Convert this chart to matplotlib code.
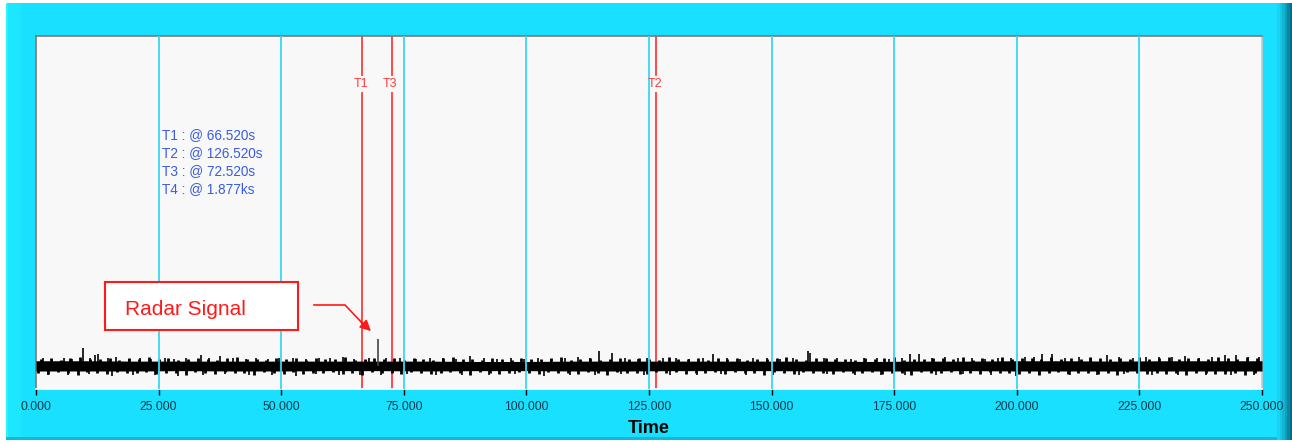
import matplotlib
matplotlib.use("Agg")
import numpy as np
import matplotlib.pyplot as plt
from matplotlib.patches import Rectangle

plt.rcParams['font.family'] = ['Liberation Sans', 'DejaVu Sans']

# cursor positions (s)
cursor_names = ["T1", "T2", "T3"]
cursor_times = [66.52, 126.52, 72.52]
readout_lines = ["T1 : @ 66.520s", "T2 : @ 126.520s", "T3 : @ 72.520s", "T4 : @ 1.877ks"]

# x ticks
tick_values = [0, 25, 50, 75, 100, 125, 150, 175, 200, 225, 250]
tick_labels = ["0.000", "25.000", "50.000", "75.000", "100.000", "125.000",
               "150.000", "175.000", "200.000", "225.000", "250.000"]

# noise band core, read every 10 s
band_t = [0, 10, 20, 30, 40, 50, 60, 70, 80, 90, 100, 110, 120, 130, 140, 150, 160,
          170, 180, 190, 200, 210, 220, 230, 240, 250]
band_hi = [0.15, 0.15, 0.14, 0.14, 0.14, 0.14, 0.14, 0.14, 0.14, 0.13, 0.13, 0.14, 0.14,
           0.14, 0.14, 0.14, 0.14, 0.13, 0.14, 0.14, 0.15, 0.15, 0.14, 0.15, 0.15, 0.15]
band_lo = [-0.14, -0.14, -0.14, -0.13, -0.14, -0.14, -0.13, -0.13, -0.14, -0.13, -0.13,
           -0.14, -0.14, -0.13, -0.13, -0.13, -0.14, -0.14, -0.14, -0.13, -0.14, -0.14,
           -0.14, -0.14, -0.14, -0.14]

# small excursions above / below the core, one every 2 s
bump_up = [0.20, 0.23, 0.18, 0.22, 0.25, 0.19, 0.21, 0.24, 0.17, 0.22,
           0.20, 0.26, 0.19, 0.23, 0.18, 0.21, 0.24, 0.20, 0.17, 0.22,
           0.25, 0.19, 0.21, 0.18, 0.23, 0.20, 0.24, 0.17, 0.22, 0.19,
           0.21, 0.25, 0.18, 0.20, 0.23, 0.19, 0.22, 0.17, 0.24, 0.20,
           0.18, 0.22, 0.26, 0.19, 0.21, 0.17, 0.23, 0.20, 0.18, 0.24,
           0.21, 0.19, 0.22, 0.25, 0.18, 0.20, 0.23, 0.17, 0.21, 0.24,
           0.19, 0.22, 0.20, 0.18, 0.25, 0.21, 0.19, 0.23, 0.17, 0.22,
           0.20, 0.24, 0.18, 0.21, 0.19, 0.23, 0.26, 0.20, 0.18, 0.22,
           0.24, 0.19, 0.21, 0.17, 0.23, 0.20, 0.22, 0.25, 0.18, 0.21,
           0.19, 0.24, 0.22, 0.20, 0.26, 0.18, 0.23, 0.21, 0.25, 0.19,
           0.22, 0.24, 0.20, 0.26, 0.21, 0.23, 0.19, 0.25, 0.22, 0.20,
           0.24, 0.21, 0.26, 0.19, 0.23, 0.25, 0.20, 0.22, 0.24, 0.21,
           0.26, 0.23, 0.20, 0.25, 0.22]
bump_dn = [-0.19, -0.22, -0.17, -0.21, -0.24, -0.18, -0.20, -0.23, -0.17, -0.21,
           -0.20, -0.18, -0.23, -0.19, -0.21, -0.25, -0.18, -0.20, -0.22, -0.17,
           -0.21, -0.19, -0.24, -0.18, -0.20, -0.22, -0.17, -0.23, -0.19, -0.21,
           -0.18, -0.22, -0.20, -0.24, -0.17, -0.21, -0.19, -0.23, -0.18, -0.20,
           -0.22, -0.19, -0.17, -0.21, -0.24, -0.18, -0.20, -0.22, -0.19, -0.17,
           -0.21, -0.23, -0.18, -0.20, -0.19, -0.22, -0.17, -0.21, -0.24, -0.18,
           -0.20, -0.19, -0.22, -0.17, -0.21, -0.18, -0.23, -0.20, -0.19, -0.17,
           -0.22, -0.18, -0.21, -0.20, -0.24, -0.17, -0.19, -0.22, -0.18, -0.21,
           -0.20, -0.23, -0.17, -0.19, -0.21, -0.18, -0.22, -0.20, -0.19, -0.24,
           -0.18, -0.21, -0.20, -0.17, -0.22, -0.19, -0.23, -0.18, -0.21, -0.20,
           -0.22, -0.19, -0.24, -0.20, -0.18, -0.23, -0.21, -0.19, -0.22, -0.20,
           -0.24, -0.18, -0.21, -0.23, -0.20, -0.22, -0.19, -0.24, -0.21, -0.20,
           -0.23, -0.22, -0.19, -0.24, -0.21]

# distinct upward spikes (time, peak)
up_t = [1.5, 3.2, 5.8, 7.4, 9.5, 11.0, 12.0, 12.7, 14.6, 16.3, 18.9, 21.2, 23.5, 26.4,
        28.1, 30.6, 33.6, 35.2, 37.5, 40.1, 42.8, 44.9, 47.3, 49.6, 52.4, 55.0, 57.7,
        59.9, 62.6, 64.8, 67.9, 71.3, 74.2, 77.5, 80.3, 82.9, 85.6, 88.5, 91.4, 94.0,
        96.8, 99.5, 102.3, 105.1, 107.9, 110.6, 112.9, 114.8, 117.4, 120.1, 122.8, 124.6,
        127.9, 130.5, 133.2, 136.0, 138.0, 140.9, 143.5, 146.3, 149.0, 151.8, 154.4,
        157.4, 157.8, 160.6, 163.3, 166.1, 168.8, 171.5, 174.0, 176.6, 178.2, 180.0,
        182.7, 185.4, 188.0, 190.9, 193.5, 196.2, 198.9, 201.6, 203.5, 205.1, 207.1,
        209.8, 212.6, 215.2, 218.3, 220.9, 223.6, 226.3, 229.0, 231.7, 234.4, 237.1,
        239.8, 242.5, 244.8, 247.2, 249.3]
up_v = [0.22, 0.20, 0.24, 0.21, 0.50, 0.24, 0.31, 0.34, 0.22, 0.25, 0.21, 0.23, 0.20,
        0.24, 0.21, 0.23, 0.31, 0.22, 0.28, 0.23, 0.21, 0.24, 0.20, 0.22, 0.24, 0.21,
        0.23, 0.22, 0.25, 0.21, 0.24, 0.23, 0.22, 0.21, 0.24, 0.22, 0.20, 0.28, 0.23,
        0.21, 0.24, 0.20, 0.22, 0.21, 0.23, 0.25, 0.22, 0.43, 0.38, 0.24, 0.21, 0.23,
        0.22, 0.24, 0.21, 0.23, 0.34, 0.22, 0.21, 0.24, 0.22, 0.20, 0.23, 0.43, 0.38,
        0.22, 0.24, 0.21, 0.23, 0.22, 0.20, 0.24, 0.34, 0.34, 0.23, 0.25, 0.22, 0.24,
        0.21, 0.23, 0.24, 0.25, 0.26, 0.34, 0.34, 0.24, 0.26, 0.23, 0.31, 0.25, 0.24,
        0.27, 0.25, 0.26, 0.28, 0.24, 0.27, 0.31, 0.31, 0.27, 0.26]

# distinct downward spikes (time, trough)
dn_t = [2.4, 6.6, 10.8, 15.5, 19.7, 24.2, 29.0, 34.1, 38.6, 43.5, 48.2, 53.0, 57.1,
        61.8, 66.0, 70.4, 75.6, 81.5, 86.9, 92.3, 97.6, 103.5, 108.8, 113.9, 119.2,
        124.0, 129.3, 134.7, 139.6, 144.8, 150.3, 155.6, 161.2, 167.0, 172.4, 177.3,
        183.5, 189.1, 194.7, 199.8, 204.6, 210.9, 216.4, 221.8, 227.5, 232.8, 238.5,
        243.6, 248.4]
dn_v = [-0.24, -0.26, -0.23, -0.28, -0.25, -0.24, -0.27, -0.26, -0.23, -0.25, -0.24,
        -0.27, -0.23, -0.25, -0.24, -0.26, -0.23, -0.25, -0.24, -0.26, -0.23, -0.27,
        -0.24, -0.25, -0.23, -0.26, -0.24, -0.25, -0.23, -0.26, -0.24, -0.25, -0.23,
        -0.24, -0.26, -0.25, -0.24, -0.23, -0.26, -0.27, -0.25, -0.24, -0.26, -0.23,
        -0.25, -0.26, -0.24, -0.25, -0.26]

# radar return
radar_t = 69.68
radar_v = 0.76

W, H = 1292, 442
fig = plt.figure(figsize=(W / 100, H / 100), dpi=100)
fig.patch.set_facecolor("white")


def px_rect(x0, y0, x1, y1, color):
    fig.patches.append(Rectangle((x0 / W, 1 - y1 / H), (x1 - x0) / W, (y1 - y0) / H,
                                 transform=fig.transFigure, facecolor=color,
                                 edgecolor="none", zorder=-10))


# cyan panel with bevel
px_rect(6, 3, W, 440, "#1ae0ff")
px_rect(6, 3, 8, 440, "#30f0ff")
px_rect(8, 3, 21, 440, "#1de6ff")
px_rect(6, 437, W, 440, "#12b8d6")
shade = ["#18d4f2", "#15c6e4", "#12b4d2", "#0f9fbc", "#0b86a2", "#086c86"]
for i, c in enumerate(shade):
    px_rect(1277 + i * 2.5, 3, 1277 + (i + 1) * 2.5, 440, c)

ax = fig.add_axes([36 / W, 1 - 389 / H, 1226 / W, 353 / H])
ax.set_zorder(5)
ax.set_facecolor("#f8f8f8")
ax.set_xlim(0, 250)
ax.set_ylim(-0.65, 9.35)

# cursors (under the trace)
for name, t in zip(cursor_names, cursor_times):
    ax.plot([t, t], [-0.65, 7.73], color="#ff3b3b", lw=1.3, zorder=2)
    ax.plot([t, t], [8.24, 9.35], color="#ff3b3b", lw=1.3, zorder=2)
    ax.text(t - 0.3, 8.0, name, color="#ff3b3b", fontsize=9, ha="center",
            va="center", zorder=5)

# signal
ax.fill_between(band_t, band_lo, band_hi, color="black", lw=0, zorder=3)
ax.vlines(np.arange(1, 250, 2), 0, bump_up, color="black", lw=2.0, zorder=3)
ax.vlines(np.arange(0.5, 250, 2), bump_dn, 0, color="black", lw=2.0, zorder=3)
ax.vlines(up_t, 0, up_v, color="black", lw=1.2, zorder=3)
ax.vlines(dn_t, dn_v, 0, color="black", lw=1.2, zorder=3)
ax.vlines([radar_t], 0, [radar_v], color="#444444", lw=1.2, zorder=3)

for v in tick_values[1:-1]:
    ax.axvline(v, color="#3ad6f4", lw=1.3, zorder=3.5)

for i, line in enumerate(readout_lines):
    ax.text(25.6, 6.545 - i * 0.51, line, color="#3a5ce0", fontsize=9.8,
            ha="left", va="center", zorder=5)

# annotation
ax.add_patch(Rectangle((14.07, 1.02), 39.36, 1.37, facecolor="white",
                       edgecolor="#ff1a1a", lw=1.5, zorder=6))
ax.text(18.2, 1.61, "Radar Signal", color="#ff1a1a", fontsize=15,
        ha="left", va="center", zorder=7)
ax.plot([56.69, 63.01, 66.5], [1.73, 1.73, 1.22], color="#ff1a1a", lw=1.2, zorder=6)
ax.annotate("", xy=(68.72, 0.935), xytext=(65.8, 1.32),
            arrowprops=dict(arrowstyle="-|>", color="#ff1a1a", lw=1.2,
                            mutation_scale=16), zorder=6)

ax.set_xticks(tick_values)
ax.set_xticklabels(tick_labels, fontsize=8.8, color="#0b3a48")
ax.set_yticks([])
ax.tick_params(axis="x", direction="out", length=4.5, width=1, color="black", pad=4)
ax.set_xlabel("Time", fontsize=13, fontweight="bold", color="black", labelpad=5)

ax.spines["top"].set_color("#7a7a7a")
ax.spines["left"].set_color("#7a7a7a")
ax.spines["right"].set_color("#c8c8c8")
ax.spines["bottom"].set_color("#ffffff")
for s in ax.spines.values():
    s.set_linewidth(1.2)

fig.savefig("out.png", dpi=100)
